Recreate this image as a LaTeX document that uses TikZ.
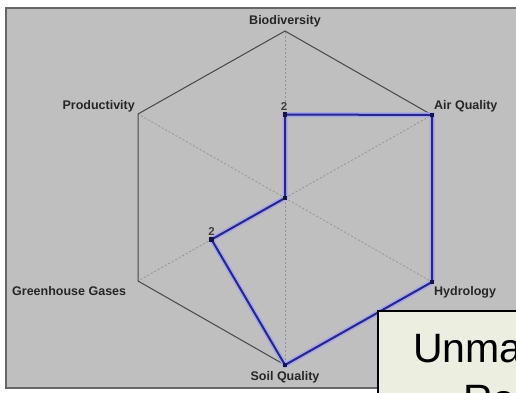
\documentclass[tikz,border=0pt]{standalone}
\usepackage{fontspec}
\setmainfont{Liberation Sans}
\usetikzlibrary{calc}
\definecolor{seriesblue}{RGB}{38,38,140}
\definecolor{serieshalo}{RGB}{165,165,235}
\definecolor{markerblue}{RGB}{20,20,70}
\definecolor{capfill}{RGB}{236,239,224}
\begin{document}
\begin{tikzpicture}[x=1pt,y=-1pt,
  axislabel/.style={font=\bfseries\fontsize{12.5}{14}\selectfont, text=black!85, inner sep=0pt},
  valuelabel/.style={font=\bfseries\fontsize{11.5}{13}\selectfont, text=black!75, inner sep=0pt},
  spoke/.style={draw=black!42, dash pattern=on 2pt off 2pt, line width=0.8pt},
  frame/.style={draw=black!72, line width=1pt},
  halo/.style={draw=serieshalo, line width=5pt, line join=miter},
  series/.style={draw=seriesblue, line width=2pt, line join=miter},
  marker/.style={fill=markerblue, minimum size=4.5pt, inner sep=0pt, draw=none}]
\useasboundingbox (0,0) rectangle (516,393);
\clip (0,0) rectangle (516,393);
\fill[white] (0,0) rectangle (516,393);

% chart panel
\fill[black!25] (6,8) rectangle (520,388);
\draw[black!60, line width=1.6pt] (520,8) -- (6,8) -- (6,388) -- (520,388);

% axis ends and centre
\coordinate (c)   at (285,198);
\coordinate (bio) at (285,31);
\coordinate (air) at (432,115);
\coordinate (hyd) at (432,282);
\coordinate (soil) at (285,365);
\coordinate (ghg) at (138,281);
\coordinate (pro) at (138,114);

% spokes
\foreach \v in {bio,air,hyd,soil,ghg,pro}
  \draw[spoke] (c) -- (\v);

% outer ring
\draw[frame] (bio) -- (air) -- (hyd) -- (soil) -- (ghg) -- (pro) -- cycle;

% data points
\coordinate (pbio) at ($(c)!0.5!(bio)$);
\coordinate (pghg) at ($(c)!0.5!(ghg)$);

\draw[halo] (c) -- (pbio) -- (air) -- (hyd) -- (soil) -- (pghg) -- cycle;
\draw[series] (c) -- (pbio) -- (air) -- (hyd) -- (soil) -- (pghg) -- cycle;
\foreach \p in {c,pbio,air,hyd,soil,pghg}
  \node[marker] at (\p) {};

% value labels
\node[valuelabel] (v1) at ($(pbio)+(-1,-8)$) {2};
\node[valuelabel] (v2) at ($(pghg)+(0,-8)$) {2};

% axis labels
\node[axislabel] (lbio)  at (285,21) {Biodiversity};
\node[axislabel, anchor=west] (lair) at (434,106) {Air Quality};
\node[axislabel, anchor=east] (lpro) at (135,106) {Productivity};
\node[axislabel, anchor=west] (lghg) at (12,291) {Greenhouse Gases};
\node[axislabel, anchor=west] (lhyd) at (434,292) {Hydrology};
\node[axislabel] (lsoil) at (285,377) {Soil Quality};

% caption box, running past the edge of the page
\draw[black, line width=2pt, fill=capfill] (378,311) rectangle (530,400);
\node[anchor=base west, font=\fontsize{41}{44}\selectfont, inner sep=0pt] (cap1) at (413,362) {Unma};
\node[anchor=base west, font=\fontsize{41}{44}\selectfont, inner sep=0pt] (cap2) at (463,413) {Ro};
\end{tikzpicture}
\end{document}
